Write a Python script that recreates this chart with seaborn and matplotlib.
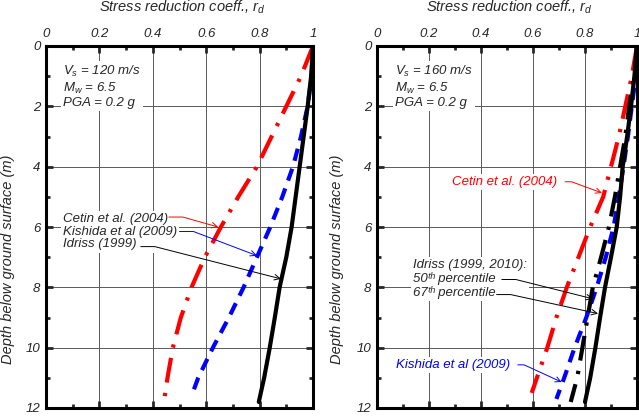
import numpy as np
import pandas as pd
from matplotlib import pyplot as plt
from matplotlib.ticker import MultipleLocator
import seaborn as sns

# left panel, Vs = 120 m/s
depth_l = [0, 1, 2, 3, 4, 5, 6, 7, 8, 9, 10, 11, 11.9]
cetin_l = [1.0, 0.955, 0.90, 0.845, 0.79, 0.72, 0.655, 0.595, 0.545, 0.505, 0.475, 0.455, 0.44]
depth_kl = [0, 1, 2, 3, 4, 5, 6, 7, 8, 9, 10, 11, 11.6]
kishida_l = [1.0, 0.995, 0.98, 0.955, 0.925, 0.885, 0.84, 0.79, 0.74, 0.685, 0.625, 0.57, 0.545]
depth_il = [0, 1, 2, 3, 4, 5, 6, 7, 8, 9, 10, 11, 11.8]
idriss_l = [1.0, 0.993, 0.98, 0.965, 0.95, 0.935, 0.92, 0.90, 0.875, 0.857, 0.838, 0.817, 0.797]

# right panel, Vs = 160 m/s
depth_cr = [0, 1, 2, 3, 4, 5, 6, 7, 8, 9, 10, 11, 11.5]
cetin_r = [1.0, 0.98, 0.955, 0.93, 0.90, 0.87, 0.82, 0.775, 0.73, 0.69, 0.655, 0.615, 0.595]
depth_kr = [0, 1, 2, 3, 4, 5, 6, 7, 8, 9, 10, 11, 11.7]
kishida_r = [1.0, 0.995, 0.98, 0.965, 0.948, 0.93, 0.91, 0.88, 0.845, 0.805, 0.76, 0.72, 0.69]
depth_ir = [0, 1, 2, 3, 4, 5, 6, 7, 8, 9, 10, 11, 11.8]
idriss50_r = [1.0, 0.99, 0.97, 0.955, 0.935, 0.915, 0.892, 0.862, 0.83, 0.81, 0.79, 0.77, 0.745]
idriss67_r = [1.0, 0.99, 0.977, 0.962, 0.945, 0.935, 0.922, 0.90, 0.877, 0.858, 0.84, 0.82, 0.80]

sns.set_style('white')
plt.rcParams['font.family'] = ['Liberation Sans', 'DejaVu Sans']
plt.rcParams['font.style'] = 'italic'
plt.rcParams['mathtext.fontset'] = 'custom'
plt.rcParams['mathtext.it'] = 'Liberation Sans:italic'
plt.rcParams['mathtext.rm'] = 'Liberation Sans:italic'

DASHDOT = (0, (6, 2.5, 0.8, 2.5))
DASHED = (0, (3, 2))
FS = 9.5

fig = plt.figure(figsize=(6.39, 4.18), dpi=100)
ax1 = fig.add_axes([46 / 639, 10 / 418, 267 / 639, 362 / 418])
ax2 = fig.add_axes([377 / 639, 10 / 418, 260 / 639, 362 / 418])


def fmt(v, pos):
    v = round(v, 3)
    if v == 0:
        return '0'
    if v == 1:
        return '1'
    return f'{v:.1f}'


def setup(ax, ylab_x):
    ax.set_xlim(0, 1)
    ax.set_ylim(12, 0)
    ax.xaxis.set_major_locator(MultipleLocator(0.2))
    ax.xaxis.set_minor_locator(MultipleLocator(0.1))
    ax.yaxis.set_major_locator(MultipleLocator(2))
    ax.yaxis.set_minor_locator(MultipleLocator(1))
    ax.xaxis.set_major_formatter(fmt)
    ax.grid(True, which='major', color='0.35', lw=0.7)
    ax.set_axisbelow(True)
    ax.tick_params(which='both', direction='in', top=True, bottom=True, left=True, right=True,
                   labeltop=True, labelbottom=False, labelsize=FS, width=2)
    ax.tick_params(which='major', length=5, pad=4)
    ax.tick_params(which='minor', length=3)
    for s in ax.spines.values():
        s.set_linewidth(2.2)
        s.set_color('black')
    ax.xaxis.set_label_position('top')
    ax.set_xlabel('Stress reduction coeff., $r_d$', fontsize=10.5, fontstyle='italic')
    ax.xaxis.set_label_coords(0.51, 1.095)
    ax.set_ylabel('Depth below ground surface (m)', fontsize=10.5, fontstyle='italic')
    ax.yaxis.set_label_coords(ylab_x, 0.41)


box = dict(facecolor='white', edgecolor='none', pad=1.5)


def arrow(ax, xy, xytext, col):
    ax.annotate('', xy=xy, xytext=xytext,
                arrowprops=dict(arrowstyle='->', color=col, lw=0.7, shrinkA=0, shrinkB=0,
                                connectionstyle='arc,angleA=0,angleB=0,armA=14,armB=0,rad=0'))


def note(ax, txt, xy, xytext, col):
    ax.annotate(txt, xy=xy, xytext=xytext, fontsize=FS, color=col, va='center', ha='left',
                fontstyle='italic', bbox=box,
                arrowprops=dict(arrowstyle='->', color=col, lw=0.7, relpos=(1, 0.5),
                                shrinkA=4, shrinkB=0,
                                connectionstyle='arc,angleA=0,angleB=0,armA=14,armB=0,rad=0'))


# ---- left panel
setup(ax1, -0.115)
sns.lineplot(x=cetin_l, y=depth_l, sort=False, estimator=None, ax=ax1,
             color='red', lw=3, linestyle=DASHDOT)
sns.lineplot(x=kishida_l, y=depth_kl, sort=False, estimator=None, ax=ax1,
             color='blue', lw=3, linestyle=DASHED)
sns.lineplot(x=idriss_l, y=depth_il, sort=False, estimator=None, ax=ax1,
             color='black', lw=3)
ax1.text(0.065, 1.35, '$V_s$ = 120 m/s\n$M_w$ = 6.5\nPGA = 0.2 g', fontsize=FS,
         fontstyle='italic', va='center', linespacing=1.15, bbox=box)

ax1.text(0.064, 6.15, 'Cetin et al. (2004)\nKishida et al (2009)\nIdriss (1999)',
         fontsize=FS, fontstyle='italic', va='center', linespacing=1.1, bbox=box)
arrow(ax1, (0.645, 6.0), (0.46, 5.67), 'red')
arrow(ax1, (0.79, 6.95), (0.50, 6.15), 'blue')
arrow(ax1, (0.88, 7.72), (0.355, 6.65), 'black')

# ---- right panel
setup(ax2, -0.125)
sns.lineplot(x=cetin_r, y=depth_cr, sort=False, estimator=None, ax=ax2,
             color='red', lw=3, linestyle=DASHDOT)
sns.lineplot(x=kishida_r, y=depth_kr, sort=False, estimator=None, ax=ax2,
             color='blue', lw=3, linestyle=DASHED)
sns.lineplot(x=idriss50_r, y=depth_ir, sort=False, estimator=None, ax=ax2,
             color='black', lw=3, linestyle=DASHDOT)
sns.lineplot(x=idriss67_r, y=depth_ir, sort=False, estimator=None, ax=ax2,
             color='black', lw=3)
ax2.text(0.07, 1.35, '$V_s$ = 160 m/s\n$M_w$ = 6.5\nPGA = 0.2 g', fontsize=FS,
         fontstyle='italic', va='center', linespacing=1.15, bbox=box)

note(ax2, 'Cetin et al. (2004)', (0.865, 4.87), (0.29, 4.5), 'red')
ax2.text(0.14, 7.73, 'Idriss (1999, 2010):\n50\u1d57\u02b0 percentile\n67\u1d57\u02b0 percentile',
         fontsize=FS, fontstyle='italic', va='center', linespacing=1.1, bbox=box)
arrow(ax2, (0.83, 8.38), (0.48, 7.74), 'black')
arrow(ax2, (0.85, 8.87), (0.46, 8.24), 'black')
note(ax2, 'Kishida et al (2009)', (0.71, 11.14), (0.073, 10.57), 'blue')

plt.savefig('out.png', dpi=100)
